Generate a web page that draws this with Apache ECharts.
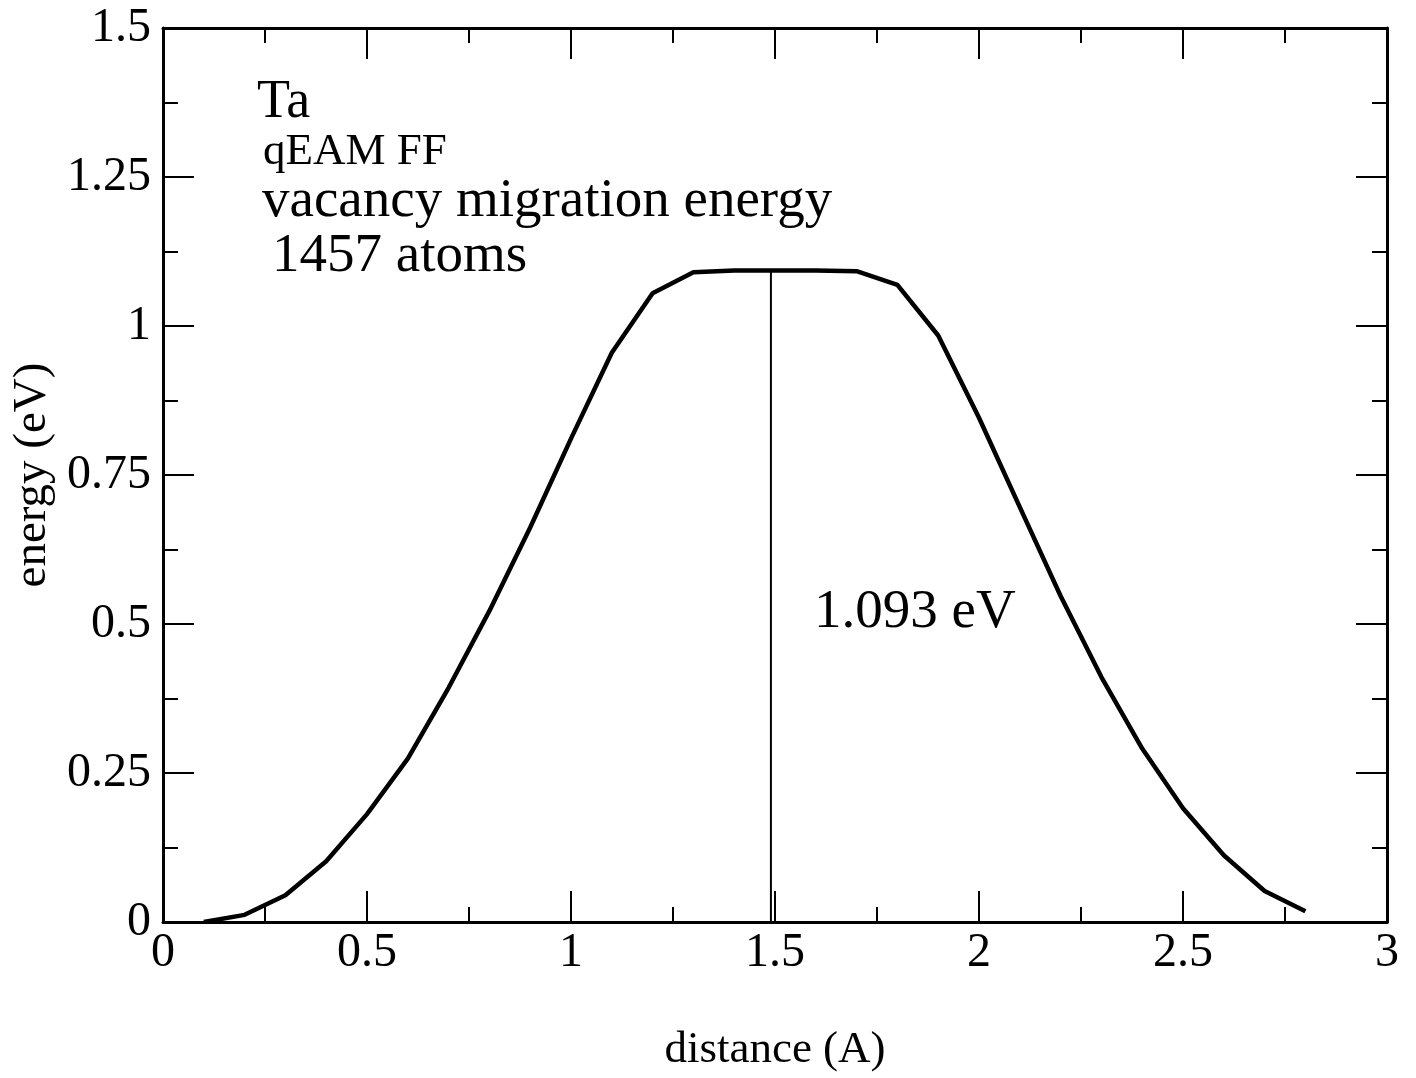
<!DOCTYPE html>
<html>
<head>
<meta charset="utf-8">
<script src="https://cdn.jsdelivr.net/npm/echarts@6/dist/echarts.min.js"></script>
<style>
html,body{margin:0;padding:0;background:#fff;}
#main{width:1416px;height:1078px;}
</style>
</head>
<body>
<div id="main"></div>
<script>
const distance = [0.1,0.2,0.3,0.4,0.5,0.6,0.7,0.8,0.9,1.0,1.1,1.2,1.3,1.4,1.5,1.6,1.7,1.8,1.9,2.0,2.1,2.2,2.3,2.4,2.5,2.6,2.7,2.8];
const energy = [0.0,0.012,0.045,0.102,0.181,0.274,0.393,0.522,0.662,0.811,0.955,1.055,1.090,1.093,1.093,1.093,1.092,1.069,0.984,0.846,0.696,0.547,0.411,0.291,0.191,0.112,0.052,0.018];
const barrierX = 1.49;
const barrierE = 1.093;
const annotations = ["Ta", "qEAM FF", "vacancy migration energy", "1457 atoms", "1.093 eV"];

const FONT = "'Liberation Serif','DejaVu Serif',serif";
const chart = echarts.init(document.getElementById('main'), null, {renderer:'canvas'});

const axisCommon = {
  axisLine:{show:true, onZero:false, lineStyle:{color:'#000', width:3}},
  axisTick:{show:true, inside:true, length:31, lineStyle:{color:'#000', width:2}},
  minorTick:{show:true, splitNumber:2, length:15, lineStyle:{color:'#000', width:2}},
  splitLine:{show:false},
};

const option = {
  animation:false,
  backgroundColor:'#fff',
  grid:{left:163, right:29, top:28, bottom:152, containLabel:false},
  xAxis:[
    Object.assign({}, axisCommon, {
      type:'value', min:0, max:3, interval:0.5, position:'bottom',
      name:'distance (A)', nameLocation:'middle', nameGap:106,
      nameTextStyle:{fontFamily:FONT, fontSize:45, color:'#000'},
      axisLabel:{fontFamily:FONT, fontSize:48, color:'#000', margin:7}
    }),
    Object.assign({}, axisCommon, {
      type:'value', min:0, max:3, interval:0.5, position:'top',
      axisLabel:{show:false}
    })
  ],
  yAxis:[
    Object.assign({}, axisCommon, {
      type:'value', min:0, max:1.5, interval:0.25, position:'left',
      name:'energy (eV)', nameLocation:'middle', nameGap:104,
      nameTextStyle:{fontFamily:FONT, fontSize:47, color:'#000'},
      axisLabel:{fontFamily:FONT, fontSize:48, color:'#000', margin:12}
    }),
    Object.assign({}, axisCommon, {
      type:'value', min:0, max:1.5, interval:0.25, position:'right',
      axisLabel:{show:false}
    })
  ],
  series:[
    {
      type:'line', xAxisIndex:0, yAxisIndex:0,
      data: distance.map((d,i)=>[d, energy[i]]),
      showSymbol:false, symbol:'none',
      lineStyle:{color:'#000', width:4.5},
      z:5
    },
    {
      type:'line', xAxisIndex:0, yAxisIndex:0,
      data: [[barrierX,0],[barrierX,barrierE]],
      showSymbol:false, symbol:'none',
      lineStyle:{color:'#000', width:2},
      z:4
    }
  ],
  graphic:[
    {type:'text', left:257, top:76, style:{text:annotations[0], font:"54px "+FONT, fill:'#000'}},
    {type:'text', left:263, top:130, style:{text:annotations[1], font:"45px "+FONT, fill:'#000'}},
    {type:'text', left:262, top:174, style:{text:annotations[2], font:"55px "+FONT, fill:'#000'}},
    {type:'text', left:272, top:229, style:{text:annotations[3], font:"55px "+FONT, fill:'#000'}},
    {type:'text', left:814, top:585, style:{text:annotations[4], font:"55px "+FONT, fill:'#000'}}
  ]
};
chart.setOption(option);
</script>
</body>
</html>
